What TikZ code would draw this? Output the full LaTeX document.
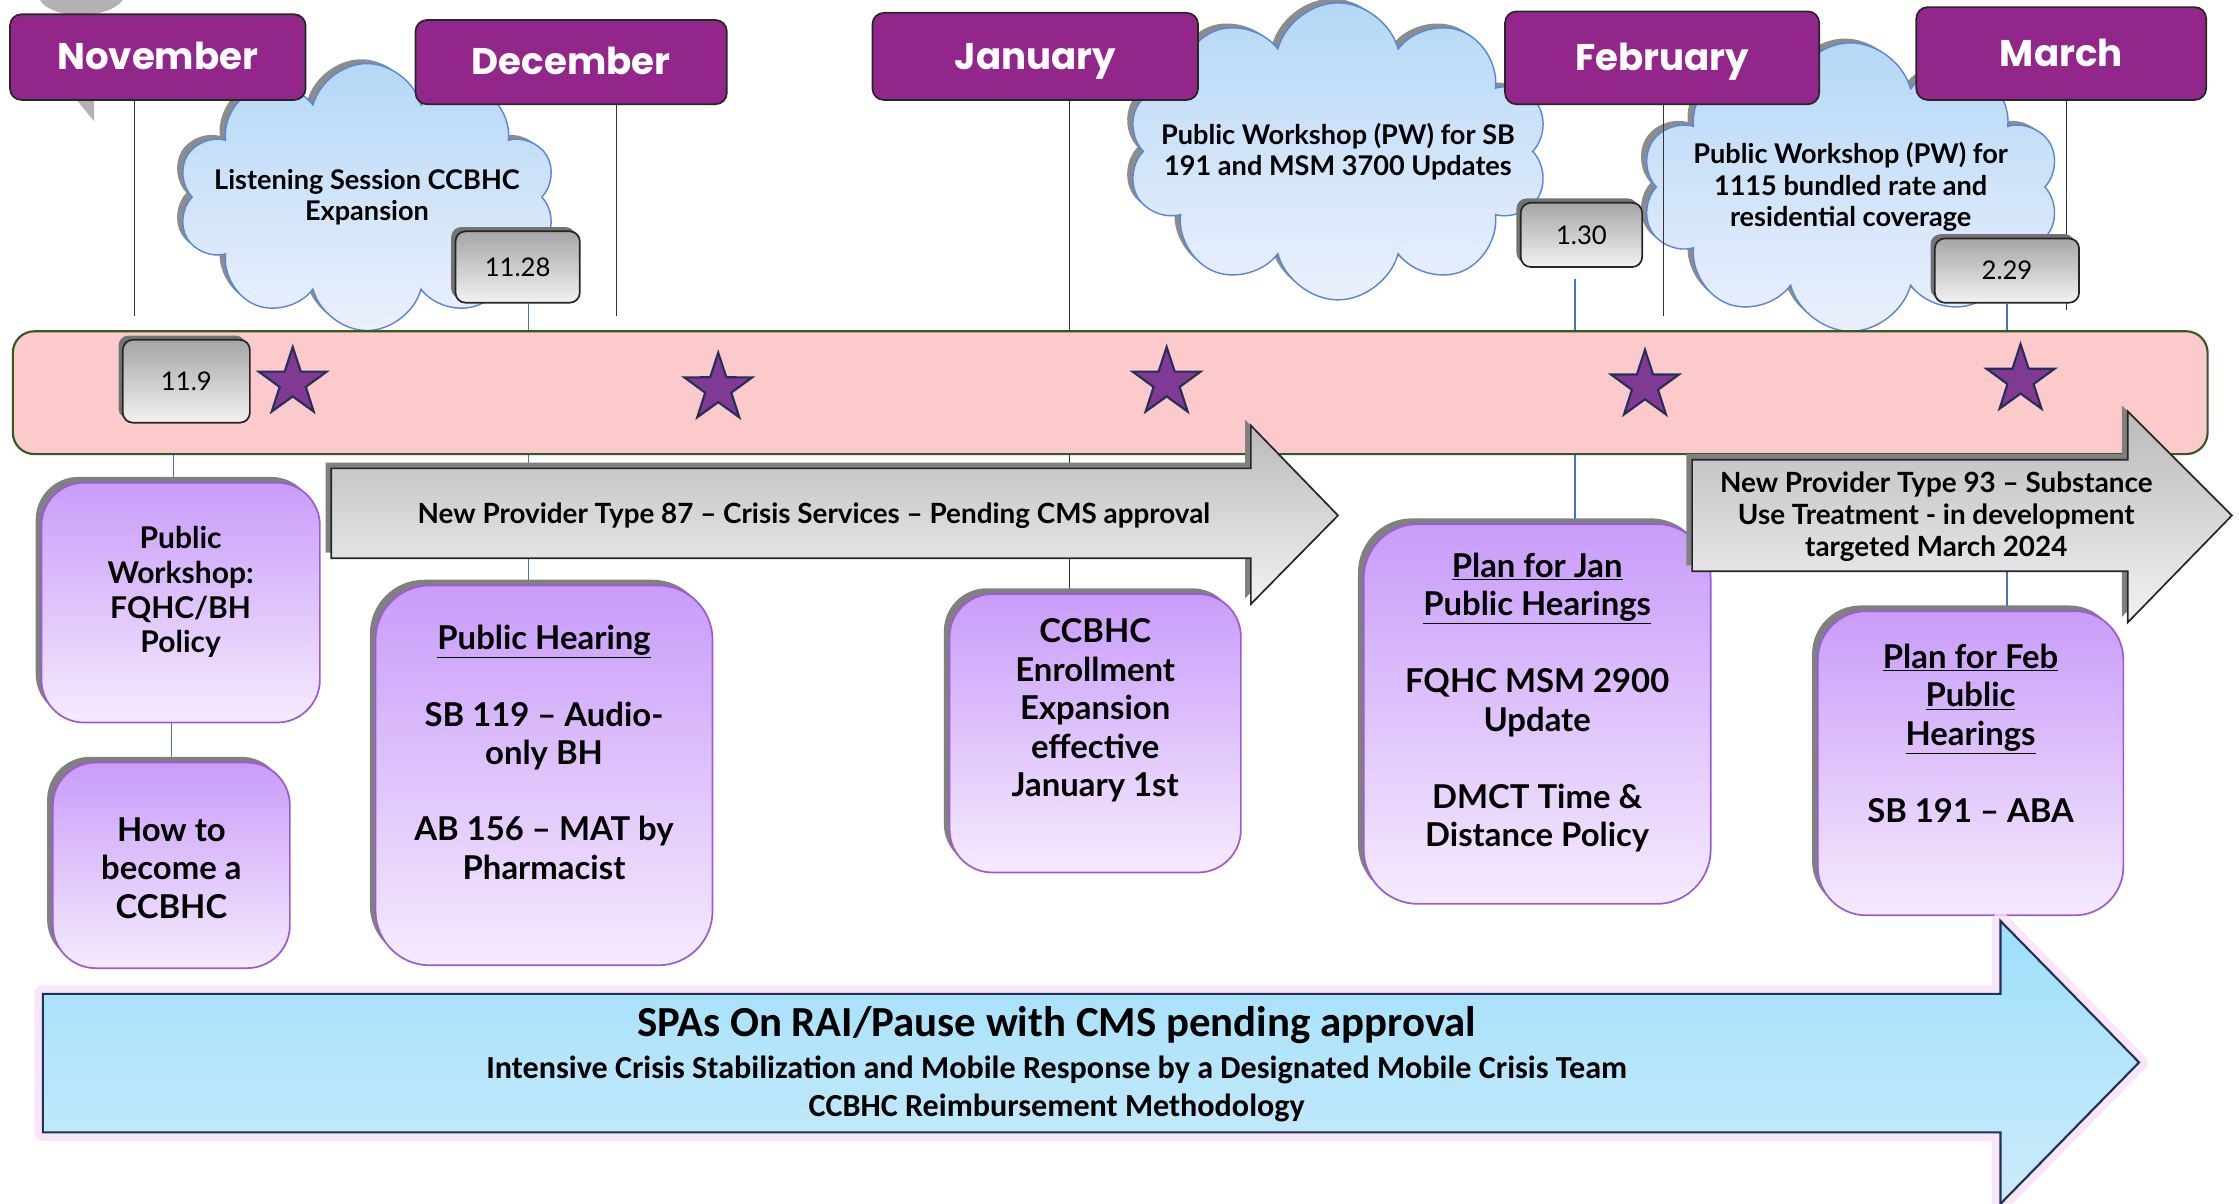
\documentclass[tikz,border=0pt]{standalone}
\usepackage{fontspec}
\setmainfont{Lato}
\newfontfamily\monthfont{Poppins}
\newfontfamily\spafont{Carlito}
\usetikzlibrary{shapes.geometric,shapes.symbols,shadows,positioning}

\definecolor{monthpurple}{RGB}{146,38,139}
\definecolor{bandpink}{RGB}{252,202,202}
\definecolor{bandgreen}{RGB}{56,87,35}
\definecolor{starpurple}{RGB}{128,58,148}
\definecolor{starline}{RGB}{36,48,88}
\definecolor{lilactop}{RGB}{201,156,250}
\definecolor{lilacbot}{RGB}{245,235,253}
\definecolor{lilacline}{RGB}{155,90,214}
\definecolor{cloudtop}{RGB}{180,216,246}
\definecolor{cloudbot}{RGB}{236,240,253}
\definecolor{cloudline}{RGB}{88,134,218}
\definecolor{connblue}{RGB}{68,114,196}
\definecolor{spatop}{RGB}{157,223,250}
\definecolor{spabot}{RGB}{205,235,250}
\definecolor{spaline}{RGB}{31,50,90}
\definecolor{spaglow}{RGB}{250,222,248}

\pgfdeclarelayer{back}
\pgfdeclarelayer{wires}
\pgfsetlayers{back,wires,main}

\begin{document}
\begin{tikzpicture}[x=1pt, y=-1pt,
    month/.style={draw=black!85, line width=1.2pt, fill=monthpurple, rounded corners=8pt,
      text=white, text height=18pt, text depth=0pt,
      font=\monthfont\bfseries\fontsize{26}{30}\selectfont},
    datebox/.style={draw=black!85, line width=1.2pt, rounded corners=7pt,
      top color=black!35, bottom color=black!5, font=\fontsize{18}{22}\selectfont,
      drop shadow={shadow xshift=-3pt, shadow yshift=3pt, fill=black!55, opacity=1}},
    bubble/.style={cloud, cloud puffs=10, aspect=1.4, draw=cloudline, line width=1pt,
      top color=cloudtop, bottom color=cloudbot,
      drop shadow={shadow xshift=-4pt, shadow yshift=3pt, fill=black!45, opacity=1}},
    bubbletext/.style={align=center, font=\bfseries\fontsize{19}{22}\selectfont},
    band/.style={draw=bandgreen, line width=1.5pt, fill=bandpink, rounded corners=15pt},
    starmark/.style={star, star points=5, star point ratio=2.6, minimum size=50,
      inner sep=0pt, fill=starpurple, draw=starline, line width=1.5pt},
    event/.style={draw=lilacline, line width=1.2pt, rounded corners=30pt,
      top color=lilactop, bottom color=lilacbot,
      drop shadow={shadow xshift=-4pt, shadow yshift=4pt, fill=black!50, opacity=1}},
    eventtext/.style={align=center, font=\bfseries\fontsize{23}{27}\selectfont},
    ptarrow/.style={draw=black!85, line width=1.2pt, top color=black!27, bottom color=black!5,
      drop shadow={shadow xshift=-4pt, shadow yshift=4pt, fill=black!50, opacity=1}},
    arrowtext/.style={align=center, font=\bfseries\fontsize{19.5}{22.5}\selectfont},
    spaarrow/.style={draw=spaline, line width=1.5pt, top color=spatop, bottom color=spabot},
    spatext/.style={font=\spafont\bfseries\fontsize{22.5}{27}\selectfont},
    monthline/.style={draw=black!80, line width=0.8pt},
    conn/.style={draw=connblue, line width=0.8pt}]

  \useasboundingbox (0,0) rectangle (1568,842.5);

  % clouds
  \begin{pgfonlayer}{back}
    \fill[black!30] (28,0) .. controls (36,14) and (76,14) .. (86,0) -- cycle;
    \fill[black!30] (52,68) -- (66,85) -- (66,68) -- cycle;
    \node[bubble, minimum width=265, minimum height=187] (listen) at (257,138) {};
    \node[bubble, minimum width=295, minimum height=208] (pwsb) at (937,106) {};
    \node[bubble, minimum width=293, minimum height=202] (pw1115) at (1296,131) {};
  \end{pgfonlayer}
  \node[bubbletext] (listen-t) at (listen) {Listening Session CCBHC\\Expansion};
  \node[bubbletext] (pwsb-t) at (pwsb) {Public Workshop (PW) for SB\\191 and MSM 3700 Updates};
  \node[bubbletext] (pw1115-t) at (pw1115)
    {Public Workshop (PW) for\\1115 bundled rate and\\residential coverage};

  % months
  \node[month, minimum width=207, minimum height=60] (nov) at (110.5,40) {November};
  \node[month, minimum width=218, minimum height=59] (dec) at (400,43.5) {December};
  \node[month, minimum width=228, minimum height=61] (jan) at (725,39.5) {January};
  \node[month, minimum width=220, minimum height=65] (feb) at (1164,40.5) {February};
  \node[month, minimum width=203, minimum height=65] (mar) at (1443.5,37.5) {March};

  \node[datebox, minimum width=87, minimum height=50] (d1128) at (362.5,187) {11.28};
  \node[datebox, minimum width=85, minimum height=45] (d130) at (1107.5,164.5) {1.30};
  \node[datebox, minimum width=101, minimum height=45] (d229) at (1405.5,189.5) {2.29};

  % timeline band
  \node[band, minimum width=1537, minimum height=86] (band) at (777.5,275) {};
  \node[datebox, minimum width=89, minimum height=58] (d119) at (130.5,267) {11.9};
  \foreach \sx/\sy [count=\i] in {205/268, 503/272, 817/268, 1152/270, 1415/266}
    \node[starmark] (star\i) at (\sx,\sy) {};

  % events
  \node[event, minimum width=195, minimum height=168] (pw) at (126.5,422) {};
  \node[eventtext, font=\bfseries\fontsize{21}{24.5}\selectfont] (pw-t)
    at ([yshift=7.5pt]pw.center) {Public\\Workshop:\\FQHC/BH\\Policy};
  \node[event, minimum width=166, minimum height=144] (howto) at (120,606) {};
  \node[eventtext] (howto-t) at ([yshift=-2pt]howto.center) {How to\\become a\\CCBHC};
  \node[event, rounded corners=38pt, minimum width=236, minimum height=266] (hearing) at (381,543) {};
  \node[eventtext] (hearing-t) at ([yshift=16pt]hearing.center)
    {\underline{Public Hearing}\\[26.5pt]SB 119 – Audio-\\only BH\\[26.5pt]AB 156 – MAT by\\Pharmacist};
  \node[event, minimum width=204, minimum height=195] (enroll) at (767,513.5) {};
  \node[eventtext] (enroll-t) at ([yshift=16pt]enroll.center)
    {CCBHC\\Enrollment\\Expansion\\effective\\January 1st};
  \node[event, rounded corners=38pt, minimum width=243, minimum height=266] (planjan) at (1076.5,500) {};
  \node[eventtext] (planjan-t) at ([yshift=8pt]planjan.center)
    {\underline{Plan for Jan}\\\underline{Public Hearings}\\[27pt]FQHC MSM 2900\\Update\\[27pt]DMCT Time \&\\Distance Policy};
  \node[event, rounded corners=34pt, minimum width=214, minimum height=213] (planfeb) at (1380,534.5) {};
  \node[eventtext] (planfeb-t) at ([yshift=21pt]planfeb.center)
    {\underline{Plan for Feb}\\\underline{Public}\\\underline{Hearings}\\[27pt]SB 191 – ABA};

  % lines behind
  \begin{pgfonlayer}{wires}
    \draw[monthline] ([xshift=-16.5pt]nov.south) -- ([xshift=-16.5pt, yshift=10pt]nov.south |- band.north);
    \draw[monthline] ([xshift=32pt]dec.south) -- ([xshift=32pt, yshift=10pt]dec.south |- band.north);
    \draw[monthline] ([xshift=24pt]jan.south) -- ([xshift=24pt]jan.south |- enroll.north);
    \draw[monthline] ([xshift=1pt]feb.south) -- ([xshift=1pt, yshift=10pt]feb.south |- band.north);
    \draw[monthline] ([xshift=3.5pt]mar.south) -- ([xshift=3.5pt, yshift=14pt]mar.south |- band.north);
    \draw[conn] ([xshift=-5pt]pw.north) -- ([xshift=-5pt]pw.north |- d119.south);
    \draw[conn] (howto.north) -- (howto.north |- pw.south);
    \draw[conn] ([xshift=7.5pt]d1128.south) -- ([xshift=7.5pt]d1128.south |- hearing.north);
    \draw[conn] ([xshift=-4.5pt, yshift=-8pt]d130.south) -- ([xshift=-4.5pt]d130.south |- planjan.north);
    \draw[conn] (d229.south) -- (d229.south |- planfeb.north);
  \end{pgfonlayer}

  % provider type arrows
  \path[ptarrow] (232,328) -- (876,328) -- (876,298) -- (937,361) -- (876,423) -- (876,391) -- (232,391) -- cycle;
  \node[arrowtext] (pt87) at (570,361) {New Provider Type 87 – Crisis Services – Pending CMS approval};
  \path[ptarrow] (1185,322) -- (1490,322) -- (1490,288) -- (1563,361) -- (1490,436) -- (1490,400) -- (1185,400) -- cycle;
  \node[arrowtext] (pt93) at (1356,362) {New Provider Type 93 – Substance\\Use Treatment - in development\\targeted March 2024};

  % SPA arrow
  \draw[spaglow, line width=12pt, line join=round, opacity=0.8]
    (30,696) -- (1401,696) -- (1401,645) -- (1498,744) -- (1401,843) -- (1401,793) -- (30,793) -- cycle;
  \path[spaarrow] (30,696) -- (1401,696) -- (1401,645) -- (1498,744) -- (1401,843) -- (1401,793) -- (30,793) -- cycle;
  \node[spatext, font=\spafont\bfseries\fontsize{30}{32}\selectfont] (spa) at (740,718)
    {SPAs On RAI/Pause with CMS pending approval};
  \node[spatext] (spa-a) at (740,749)
    {Intensive Crisis Stabilization and Mobile Response by a Designated Mobile Crisis Team};
  \node[spatext] (spa-b) at (740,776) {CCBHC Reimbursement Methodology};
\end{tikzpicture}
\end{document}
